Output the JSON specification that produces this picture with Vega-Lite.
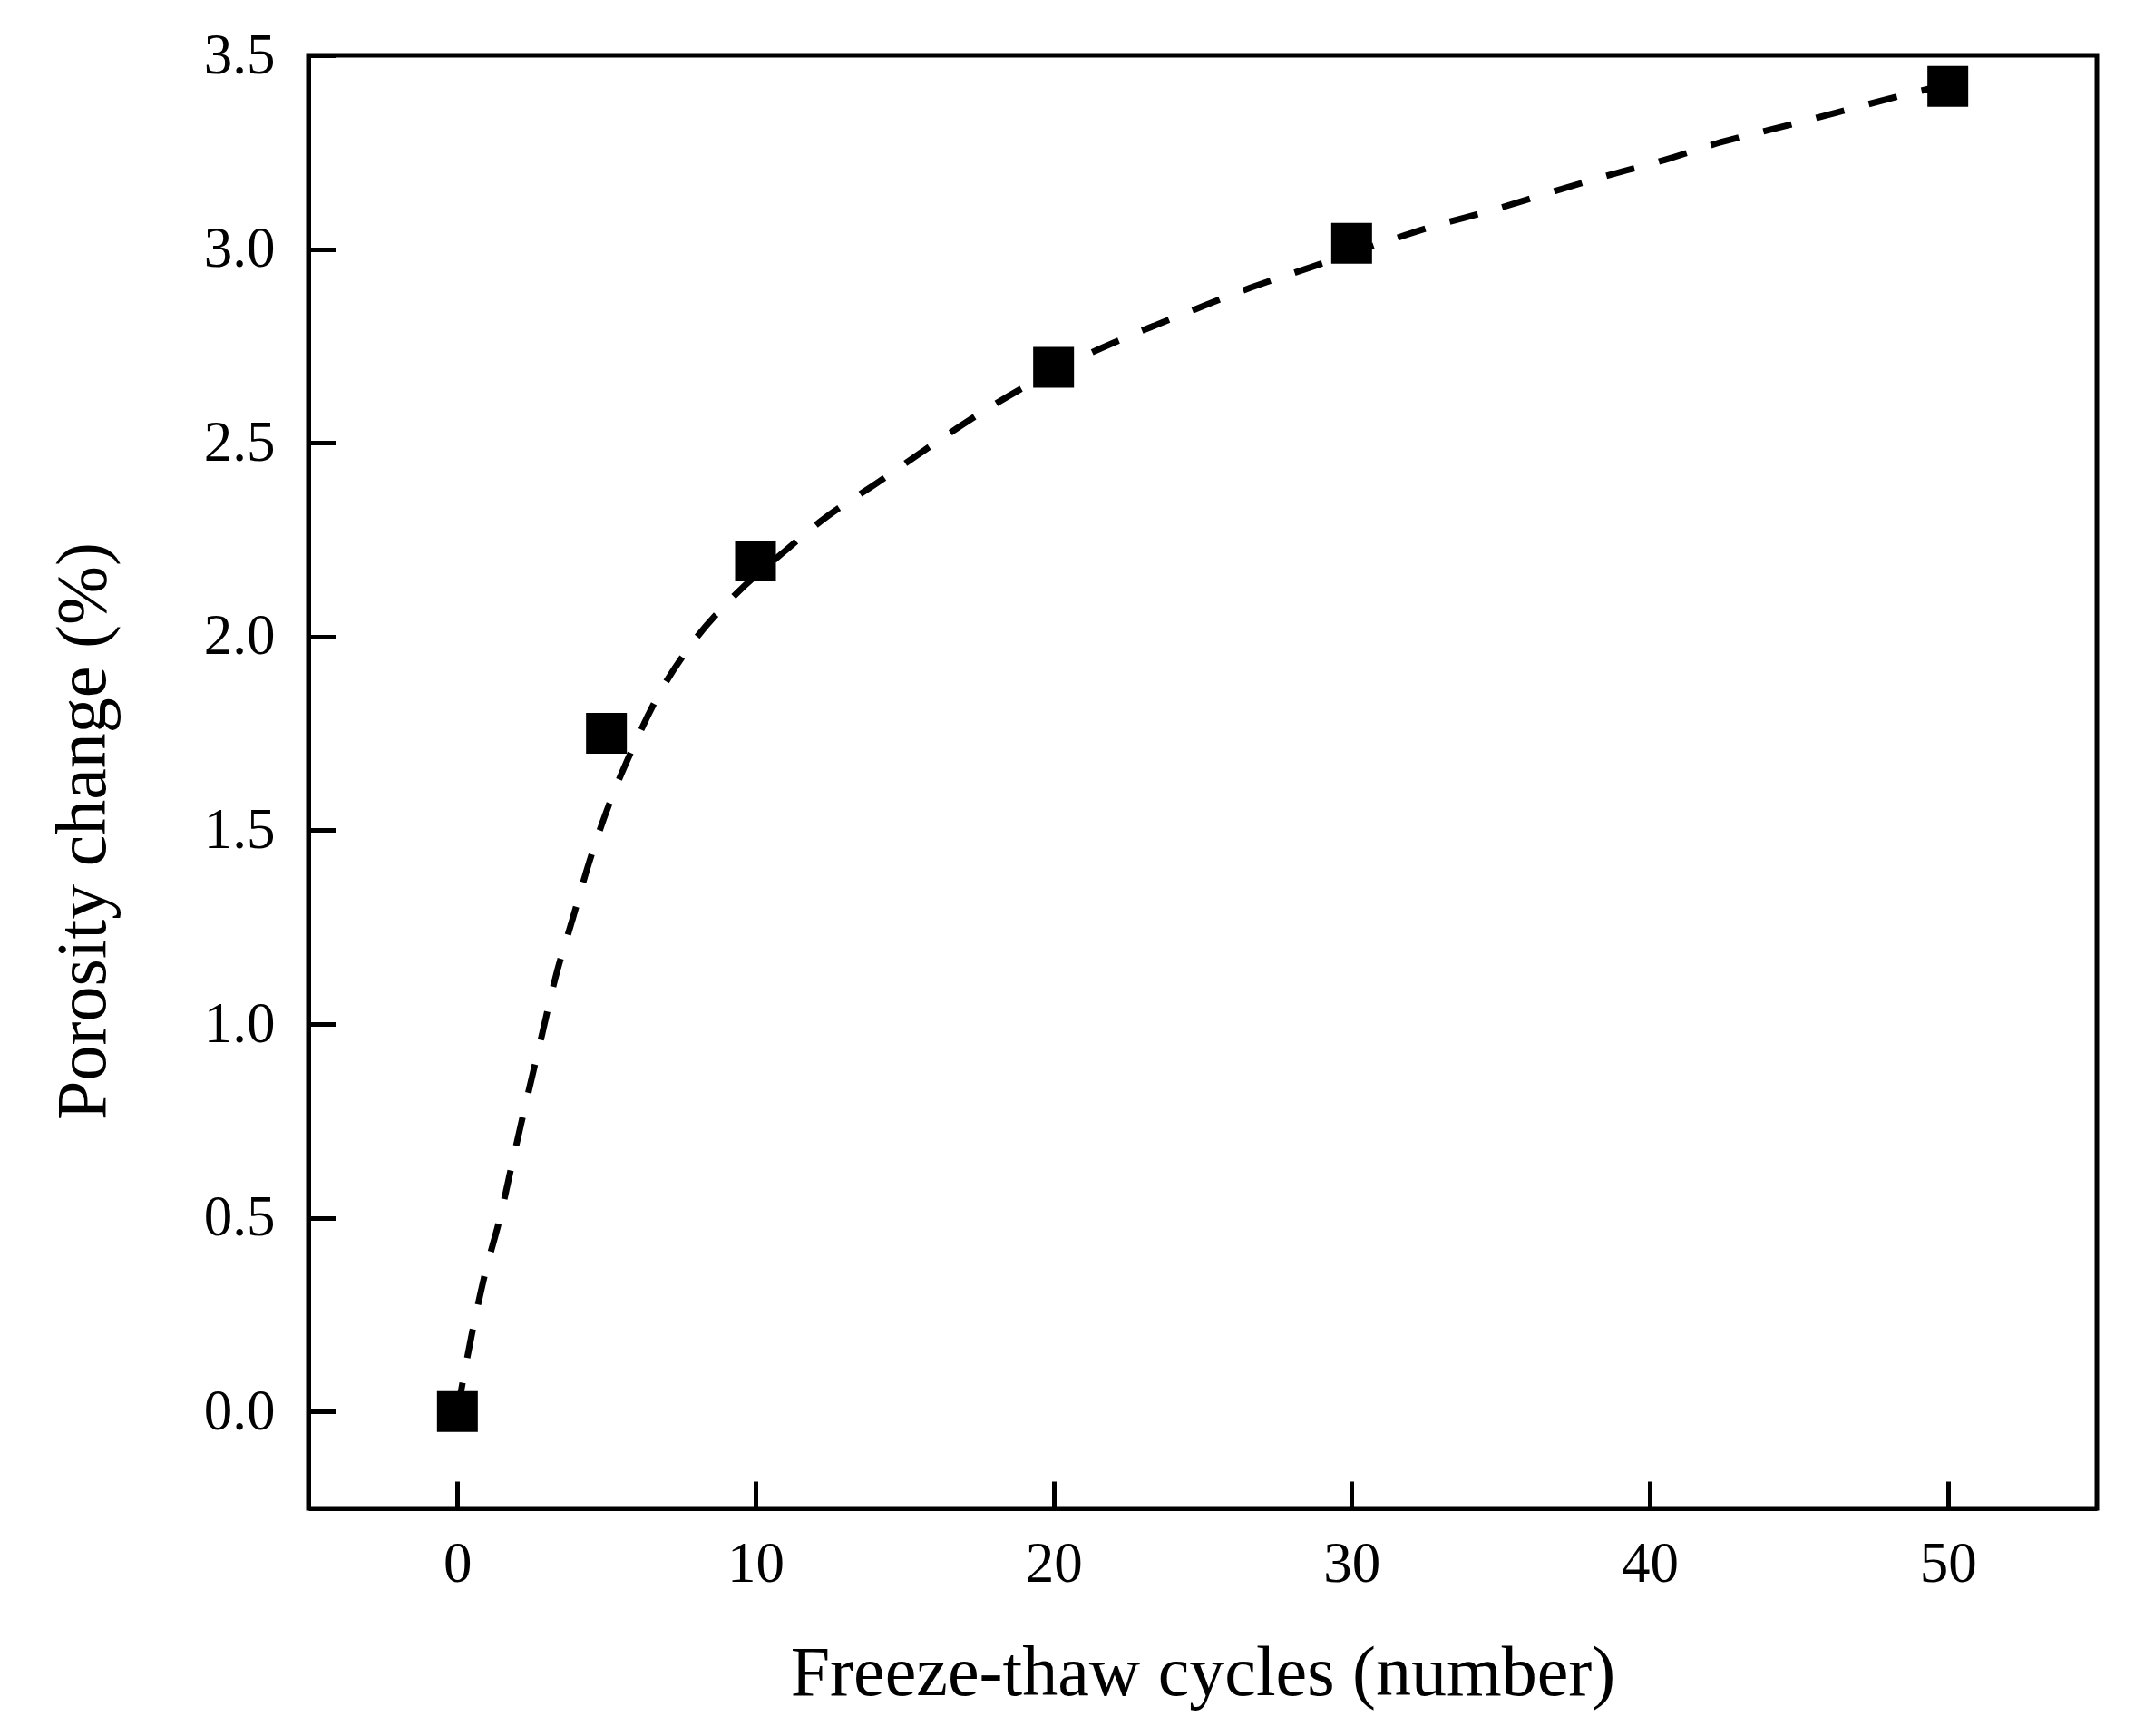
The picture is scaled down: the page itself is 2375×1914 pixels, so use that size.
{
  "$schema": "https://vega.github.io/schema/vega-lite/v6.json",
  "width": 1972,
  "height": 1602,
  "autosize": {"type": "none"},
  "padding": {"left": 340, "top": 61, "right": 63, "bottom": 251},
  "background": "white",
  "config": {
    "font": "Liberation Serif",
    "view": {"stroke": "black", "strokeWidth": 5},
    "axis": {
      "grid": false,
      "ticks": true,
      "tickSize": -30,
      "tickWidth": 5,
      "tickColor": "black",
      "domainColor": "black",
      "domainWidth": 5,
      "labelFont": "Liberation Serif",
      "labelFontSize": 63,
      "labelColor": "black",
      "titleFont": "Liberation Serif",
      "titleFontSize": 78,
      "titleFontWeight": "normal",
      "titleColor": "black"
    }
  },
  "datasets": {
    "measured": [
      {"cycles": 0, "porosity": 0.0},
      {"cycles": 5, "porosity": 1.75},
      {"cycles": 10, "porosity": 2.195},
      {"cycles": 20, "porosity": 2.695},
      {"cycles": 30, "porosity": 3.015},
      {"cycles": 50, "porosity": 3.42}
    ],
    "fit": [
      {"cycles": 0, "porosity": 0.0},
      {"cycles": 0.46, "porosity": 0.19},
      {"cycles": 0.91, "porosity": 0.35},
      {"cycles": 1.43, "porosity": 0.5},
      {"cycles": 1.88, "porosity": 0.655},
      {"cycles": 2.34, "porosity": 0.81},
      {"cycles": 2.8, "porosity": 0.96},
      {"cycles": 3.29, "porosity": 1.12},
      {"cycles": 3.86, "porosity": 1.27},
      {"cycles": 4.41, "porosity": 1.415},
      {"cycles": 5.08, "porosity": 1.565},
      {"cycles": 5.87, "porosity": 1.71},
      {"cycles": 6.79, "porosity": 1.855},
      {"cycles": 7.85, "porosity": 1.98},
      {"cycles": 9.22, "porosity": 2.1},
      {"cycles": 10.9, "porosity": 2.215},
      {"cycles": 12.23, "porosity": 2.3},
      {"cycles": 14.15, "porosity": 2.4},
      {"cycles": 15.92, "porosity": 2.494},
      {"cycles": 17.68, "porosity": 2.583},
      {"cycles": 20.94, "porosity": 2.721},
      {"cycles": 22.8, "porosity": 2.784},
      {"cycles": 24.7, "porosity": 2.843},
      {"cycles": 26.6, "porosity": 2.9},
      {"cycles": 28.7, "porosity": 2.955},
      {"cycles": 30.9, "porosity": 3.013},
      {"cycles": 32.7, "porosity": 3.058},
      {"cycles": 34.7, "porosity": 3.1},
      {"cycles": 36.7, "porosity": 3.147},
      {"cycles": 38.6, "porosity": 3.19},
      {"cycles": 40.5, "porosity": 3.23},
      {"cycles": 42.4, "porosity": 3.276},
      {"cycles": 44.3, "porosity": 3.313},
      {"cycles": 46.3, "porosity": 3.353},
      {"cycles": 48.5, "porosity": 3.397},
      {"cycles": 50, "porosity": 3.425}
    ]
  },
  "encoding": {
    "x": {
      "field": "cycles",
      "type": "quantitative",
      "scale": {"domain": [-5, 55], "nice": false, "zero": false},
      "axis": {
        "title": "Freeze-thaw cycles (number)",
        "values": [0, 10, 20, 30, 40, 50],
        "labelPadding": 60,
        "titlePadding": 50
      }
    },
    "y": {
      "field": "porosity",
      "type": "quantitative",
      "scale": {"domain": [-0.25, 3.5], "nice": false, "zero": false},
      "axis": {
        "title": "Porosity change (%)",
        "values": [0, 0.5, 1, 1.5, 2, 2.5, 3, 3.5],
        "format": ".1f",
        "labelPadding": 67,
        "titlePadding": 93,
        "titleY": 855
      }
    }
  },
  "layer": [
    {
      "data": {"name": "fit"},
      "mark": {
        "type": "line",
        "color": "black",
        "strokeWidth": 7,
        "strokeDash": [32, 28],
        "interpolate": "monotone"
      }
    },
    {
      "data": {"name": "measured"},
      "mark": {
        "type": "point",
        "shape": "square",
        "filled": true,
        "color": "black",
        "opacity": 1,
        "size": 2025
      }
    }
  ]
}
